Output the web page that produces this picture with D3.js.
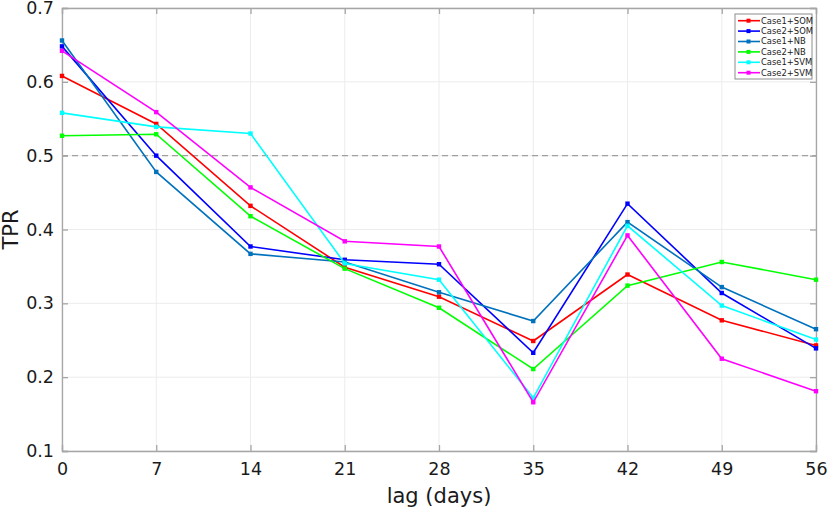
<!DOCTYPE html>
<html>
<head>
<meta charset="utf-8">
<script src="https://cdn.jsdelivr.net/npm/d3@7"></script>
<style>
  body { margin: 0; background: #fff; }
  text { font-family: "DejaVu Sans", sans-serif; fill: #1a1a1a; }
</style>
</head>
<body>
<script>
(function () {
    'use strict';

    const width = 829;
    const height = 509;
    const margin = {top: 8, left: 62, right: 13, bottom: 58};

    // lag in days
    const lags = [0, 7, 14, 21, 28, 35, 42, 49, 56];
    const yTicks = [0.1, 0.2, 0.3, 0.4, 0.5, 0.6, 0.7];

    const seriesNames = ['Case1+SOM', 'Case2+SOM', 'Case1+NB', 'Case2+NB', 'Case1+SVM', 'Case2+SVM'];
    const seriesColors = ['#ff0000', '#0000ff', '#0072bd', '#00ff00', '#00ffff', '#ff00ff'];

    const case1Som = [0.608, 0.543, 0.432, 0.349, 0.309, 0.249, 0.339, 0.277, 0.243];
    const case2Som = [0.648, 0.500, 0.377, 0.359, 0.353, 0.233, 0.435, 0.314, 0.239];
    const case1Nb  = [0.656, 0.478, 0.367, 0.356, 0.315, 0.276, 0.410, 0.322, 0.265];
    const case2Nb  = [0.527, 0.529, 0.418, 0.347, 0.294, 0.211, 0.324, 0.356, 0.332];
    const case1Svm = [0.558, 0.539, 0.530, 0.354, 0.332, 0.172, 0.405, 0.297, 0.251];
    const case2Svm = [0.642, 0.559, 0.457, 0.384, 0.377, 0.166, 0.392, 0.225, 0.181];

    const seriesValues = [case1Som, case2Som, case1Nb, case2Nb, case1Svm, case2Svm];
    const threshold = 0.5;

    const svg = d3.select('body')
        .append('svg')
        .attr('width', width)
        .attr('height', height);

    const x = d3.scaleLinear()
        .domain([0, 56])
        .range([margin.left, width - margin.right]);

    const y = d3.scaleLinear()
        .domain([0.1, 0.7])
        .range([height - margin.bottom, margin.top]);

    const axisColor = '#a6a6a6';

    // grid
    svg.append('g')
        .selectAll('line')
        .data(lags)
        .enter().append('line')
        .attr('x1', d => x(d)).attr('x2', d => x(d))
        .attr('y1', y(0.1)).attr('y2', y(0.7))
        .attr('stroke', '#ececec').attr('stroke-width', 1);

    svg.append('g')
        .selectAll('line')
        .data(yTicks)
        .enter().append('line')
        .attr('x1', x(0)).attr('x2', x(56))
        .attr('y1', d => y(d)).attr('y2', d => y(d))
        .attr('stroke', '#ececec').attr('stroke-width', 1);

    // threshold line
    svg.append('line')
        .attr('x1', x(0)).attr('x2', x(56))
        .attr('y1', y(threshold)).attr('y2', y(threshold))
        .attr('stroke', '#a0a0a0')
        .attr('stroke-width', 1.2)
        .attr('stroke-dasharray', '6,4');

    // axes
    const xAxis = svg.append('g')
        .attr('transform', `translate(0,${y(0.1)})`)
        .call(d3.axisBottom(x).tickValues(lags).tickSize(-6).tickPadding(12).tickFormat(d3.format('d')));
    const xAxisTop = svg.append('g')
        .attr('transform', `translate(0,${y(0.7)})`)
        .call(d3.axisTop(x).tickValues(lags).tickSize(-6).tickFormat(''));
    const yAxis = svg.append('g')
        .attr('transform', `translate(${x(0)},0)`)
        .call(d3.axisLeft(y).tickValues(yTicks).tickSize(-6).tickPadding(8).tickFormat(d3.format('.1f')));
    const yAxisRight = svg.append('g')
        .attr('transform', `translate(${x(56)},0)`)
        .call(d3.axisRight(y).tickValues(yTicks).tickSize(-6).tickFormat(''));

    [xAxis, xAxisTop, yAxis, yAxisRight].forEach(g => {
        g.select('.domain').attr('stroke', axisColor).attr('stroke-width', 1.3);
        g.selectAll('.tick line').attr('stroke', axisColor).attr('stroke-width', 1.3);
        g.selectAll('.tick text')
            .style('font-family', '"DejaVu Sans", sans-serif')
            .style('font-size', '17.5px')
            .attr('fill', '#1a1a1a');
    });

    // axis titles
    svg.append('text')
        .attr('x', (x(0) + x(56)) / 2)
        .attr('y', 503)
        .attr('text-anchor', 'middle')
        .style('font-size', '21px')
        .text('lag (days)');

    svg.append('text')
        .attr('transform', `translate(18,${(y(0.1) + y(0.7)) / 2}) rotate(-90)`)
        .attr('text-anchor', 'middle')
        .style('font-size', '21px')
        .text('TPR');

    // series
    const line = d3.line()
        .x((d, i) => x(lags[i]))
        .y(d => y(d));

    const series = svg.selectAll('.series')
        .data(seriesValues)
        .enter().append('g')
        .attr('class', 'series');

    series.append('path')
        .attr('d', d => line(d))
        .attr('fill', 'none')
        .attr('stroke', (d, i) => seriesColors[i])
        .attr('stroke-width', 1.6);

    series.each(function (vals, si) {
        d3.select(this).selectAll('rect')
            .data(vals)
            .enter().append('rect')
            .attr('x', (d, i) => x(lags[i]) - 2.2)
            .attr('y', d => y(d) - 2.2)
            .attr('width', 4.4)
            .attr('height', 4.4)
            .attr('fill', seriesColors[si]);
    });

    // legend
    const legend = svg.append('g')
        .attr('transform', 'translate(735,14)');

    legend.append('rect')
        .attr('width', 77)
        .attr('height', 65)
        .attr('fill', '#fff')
        .attr('stroke', '#8c8c8c')
        .attr('stroke-width', 1);

    const item = legend.selectAll('.item')
        .data(seriesNames)
        .enter().append('g')
        .attr('class', 'item')
        .attr('transform', (d, i) => `translate(0,${6.7 + i * 10.4})`);

    item.append('line')
        .attr('x1', 3).attr('x2', 25)
        .attr('stroke', (d, i) => seriesColors[i])
        .attr('stroke-width', 1.6);

    item.append('rect')
        .attr('x', 11.5).attr('y', -2)
        .attr('width', 4).attr('height', 4)
        .attr('fill', (d, i) => seriesColors[i]);

    item.append('text')
        .attr('x', 26)
        .attr('dy', '0.35em')
        .style('font-size', '8.4px')
        .text(d => d);
}());
</script>
</body>
</html>
